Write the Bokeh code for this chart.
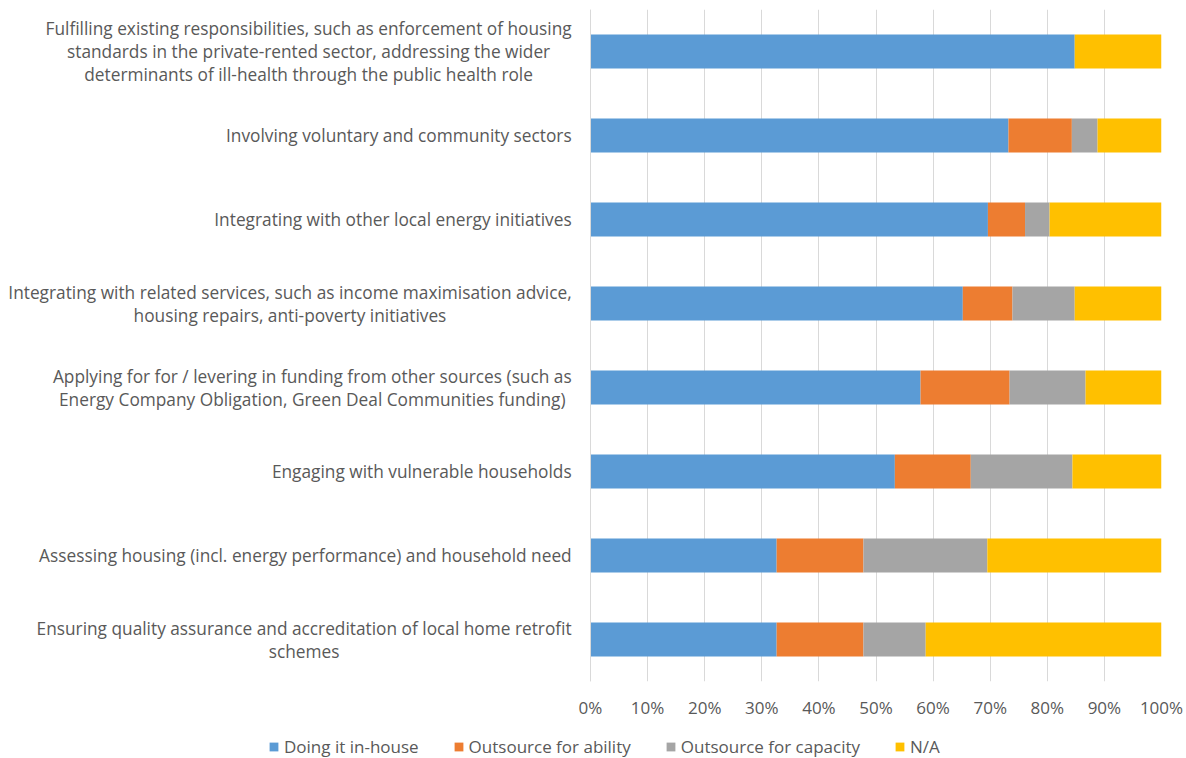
from bokeh.plotting import figure
from bokeh.layouts import column
from bokeh.models import ColumnDataSource, FactorRange, Legend, LegendItem, NumeralTickFormatter, FixedTicker, Span
from bokeh.core.properties import value
from bokeh.embed import file_html
from bokeh.resources import INLINE

categories = [
    "Fulfilling existing responsibilities, such as enforcement of housing\nstandards in the private-rented sector, addressing the wider\ndeterminants of ill-health through the public health role",
    "Involving voluntary and community sectors",
    "Integrating with other local energy initiatives",
    "Integrating with related services, such as income maximisation advice,\nhousing repairs, anti-poverty initiatives",
    "Applying for for / levering in funding from other sources (such as\nEnergy Company Obligation, Green Deal Communities funding)",
    "Engaging with vulnerable households",
    "Assessing housing (incl. energy performance) and household need",
    "Ensuring quality assurance and accreditation of local home retrofit\nschemes",
]
series_names = ["Doing it in-house", "Outsource for ability", "Outsource for capacity", "N/A"]
inhouse = [84.8, 73.2, 69.6, 65.2, 57.8, 53.3, 32.6, 32.6]
ability = [0.0, 11.1, 6.5, 8.7, 15.6, 13.3, 15.2, 15.2]
capacity = [0.0, 4.5, 4.3, 10.9, 13.3, 17.8, 21.7, 10.9]
na = [15.2, 11.2, 19.6, 15.2, 13.3, 15.6, 30.5, 41.3]
tick_values = [0, 0.1, 0.2, 0.3, 0.4, 0.5, 0.6, 0.7, 0.8, 0.9, 1.0]

colors = ["#5b9bd5", "#ed7d31", "#a5a5a5", "#ffc000"]
keys = ["inhouse", "ability", "capacity", "na"]

src = ColumnDataSource(dict(
    cat=categories,
    inhouse=[v / 100 for v in inhouse],
    ability=[v / 100 for v in ability],
    capacity=[v / 100 for v in capacity],
    na=[v / 100 for v in na],
    lx=[-0.033] * len(categories),
))

FONT = "Open Sans"
TXT = "#595959"
FS = "17px"

p = figure(
    y_range=FactorRange(factors=list(reversed(categories))),
    x_range=(-1.0333, 1.0),
    width=1186, height=726,
    output_backend="svg", toolbar_location=None,
    min_border_left=0, min_border_right=25, min_border_top=9, min_border_bottom=45,
)
p.hbar_stack(keys, y="cat", height=0.405, color=colors, source=src, line_color=None)

p.text(x="lx", y="cat", text="cat", source=src, text_align="center", anchor="center_right",
       text_baseline="middle",
       text_font=value(FONT), text_font_size="17.3px", text_color=TXT, text_line_height=1.0)

p.add_layout(Span(location=0, dimension="height", line_color="#d9d9d9", line_width=1))

p.yaxis.visible = False
p.xaxis.ticker = FixedTicker(ticks=tick_values)
p.xaxis.formatter = NumeralTickFormatter(format="0%")
p.xaxis.axis_line_color = None
p.xaxis.major_tick_line_color = None
p.xaxis.minor_tick_line_color = None
p.xaxis.major_label_text_font = FONT
p.xaxis.major_label_text_font_size = FS
p.xaxis.major_label_text_color = TXT
p.xaxis.major_label_standoff = 8

p.xgrid.grid_line_color = "#d9d9d9"
p.ygrid.grid_line_color = None
p.outline_line_color = None

# legend strip below the chart (swatch renderers hold no visible data)
lg = figure(
    width=1186, height=32, x_range=(0, 1), y_range=(0, 1),
    output_backend="svg", toolbar_location=None,
    min_border_left=0, min_border_right=0, min_border_top=0, min_border_bottom=0,
)
lg.axis.visible = False
lg.grid.visible = False
lg.outline_line_color = None
nan = float("nan")
swatches = [lg.quad(left=[nan], right=[nan], bottom=[nan], top=[nan], color=c, line_color=None)
            for c in colors]

legend = Legend(
    items=[LegendItem(label=n, renderers=[r]) for n, r in zip(series_names, swatches)],
    orientation="horizontal", location=(268, 0),
    label_text_font=FONT, label_text_font_size=FS, label_text_color=TXT,
    glyph_width=11, glyph_height=11, spacing=34, border_line_color=None,
    background_fill_alpha=0, padding=4, margin=0, label_standoff=5,
)
lg.add_layout(legend, "center")

layout = column(p, lg, spacing=0)
open("out.html", "w").write(file_html(layout, INLINE))
